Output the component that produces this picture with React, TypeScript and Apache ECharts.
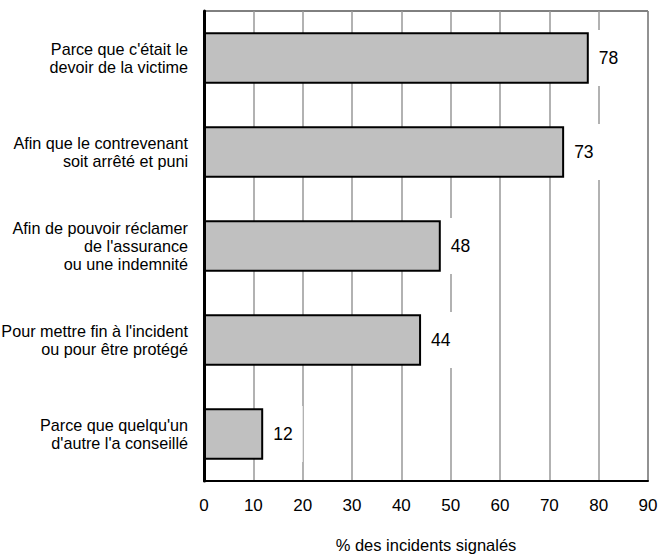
import React, { useEffect, useRef } from "react";
import * as echarts from "echarts";

const categories = [
  "Parce que c'était le\ndevoir de la victime",
  "Afin que le contrevenant\nsoit arrêté et puni",
  "Afin de pouvoir réclamer\nde l'assurance\nou une indemnité",
  "Pour mettre fin à l'incident\nou pour être protégé",
  "Parce que quelqu'un\nd'autre l'a conseillé",
];
const values = [78, 73, 48, 44, 12];
const xTicks = { min: 0, max: 90, interval: 10 };
const axisTitle = "% des incidents signalés";

const FONT = "'Liberation Sans', Arial, sans-serif";

export default function App() {
  const ref = useRef<HTMLDivElement>(null);
  useEffect(() => {
    document.body.style.margin = "0";
    const chart = echarts.init(ref.current!, null, { renderer: "svg" });
    chart.setOption({
      animation: false,
      backgroundColor: "#ffffff",
      textStyle: { fontFamily: FONT },
      grid: {
        left: 204,
        top: 11,
        right: 21,
        bottom: 76,
        show: true,
        borderColor: "#000",
        borderWidth: 1,
        backgroundColor: "transparent",
        outerBoundsMode: "none",
        containLabel: false,
      },
      xAxis: {
        type: "value",
        min: xTicks.min,
        max: xTicks.max,
        interval: xTicks.interval,
        axisLine: { show: true, onZero: false, lineStyle: { color: "#000", width: 2 } },
        axisTick: { show: false },
        splitLine: { show: true, lineStyle: { color: "#999", width: 1.5 } },
        axisLabel: { color: "#000", fontSize: 17, margin: 16, fontFamily: FONT },
        name: axisTitle,
        nameLocation: "middle",
        nameGap: 55,
        nameTextStyle: { color: "#000", fontSize: 16.5, fontFamily: FONT },
      },
      yAxis: {
        type: "category",
        data: categories,
        inverse: true,
        axisLine: { show: true, lineStyle: { color: "#000", width: 3 } },
        axisTick: { show: false },
        splitLine: { show: false },
        axisLabel: {
          color: "#000",
          fontSize: 16.2,
          lineHeight: 18,
          margin: 16,
          align: "right",
          fontFamily: FONT,
        },
      },
      series: [
        {
          type: "bar",
          data: values,
          barCategoryGap: "45%",
          itemStyle: { color: "#c0c0c0", borderColor: "#000", borderWidth: 2 },
          label: {
            show: true,
            position: "right",
            distance: 2,
            color: "#000",
            fontSize: 17.5,
            fontFamily: FONT,
            backgroundColor: "#fff",
            padding: [19, 10, 19, 8],
          },
        },
      ],
    });
    return () => chart.dispose();
  }, []);
  return <div ref={ref} style={{ width: 669, height: 557 }} />;
}
